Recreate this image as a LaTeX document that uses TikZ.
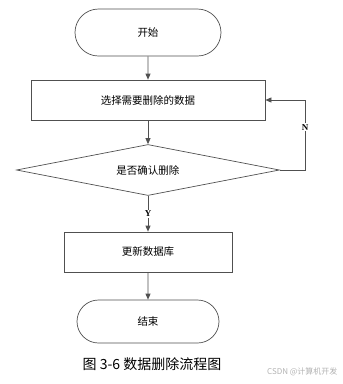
\documentclass[tikz,border=0pt]{standalone}
\usepackage{fontspec}
\setmainfont{Liberation Serif}
\newfontfamily\cjk{Noto Sans CJK SC}
\usetikzlibrary{shapes.geometric,shapes.misc,arrows.meta}
\definecolor{lc}{HTML}{505050}
\tikzset{
  every node/.style={font=\cjk\fontsize{10.5}{12}\selectfont},
  term/.style={draw=lc, line width=0.7pt, rounded rectangle, minimum width=146pt, minimum height=47pt, inner sep=0pt},
  proc/.style={draw=lc, line width=0.7pt, rectangle, inner sep=0pt},
  dec/.style={draw=lc, line width=0.7pt, diamond, aspect=5.15, minimum width=263pt, minimum height=51pt, inner sep=0pt},
  conn/.style={draw=lc, line width=0.7pt, -{Triangle[length=6pt,width=5pt]}},
  lab/.style={font=\bfseries\fontsize{9}{10}\selectfont, fill=white, inner sep=1pt}
}
\begin{document}
\begin{tikzpicture}[x=1pt,y=-1pt]
\useasboundingbox (0,0) rectangle (343,384);
\node[term] (start) at (148,32.5) {开始};
\node[proc, minimum width=234pt, minimum height=40pt] (sel) at (148,100) {选择需要删除的数据};
\node[dec] (dec) at (148,170) {是否确认删除};
\node[proc, minimum width=168pt, minimum height=40pt] (upd) at (148,252) {更新数据库};
\node[term, minimum width=142pt, minimum height=43pt] (end) at (148,321.5) {结束};
\coordinate (nc) at (305,170);
\coordinate (nt) at (305,100);
\draw[conn] (start) -- (sel);
\draw[conn] (sel) -- (dec);
\draw[conn] (dec.south) -- node[lab, pos=0.5] (y) {Y} (upd);
\draw[conn] (dec.east) -- (nc) -- node[lab, pos=0.61] (n) {N} (nt) -- (sel.east);
\draw[conn] (upd) -- (end);
\node[font=\cjk\fontsize{14}{16}\selectfont] (cap) at (152,364) {图 3-6 数据删除流程图};
\node[font=\cjk\fontsize{8}{9}\selectfont, text=black!30, anchor=east] (wm) at (341,372) {CSDN @计算机开发};
\end{tikzpicture}
\end{document}
